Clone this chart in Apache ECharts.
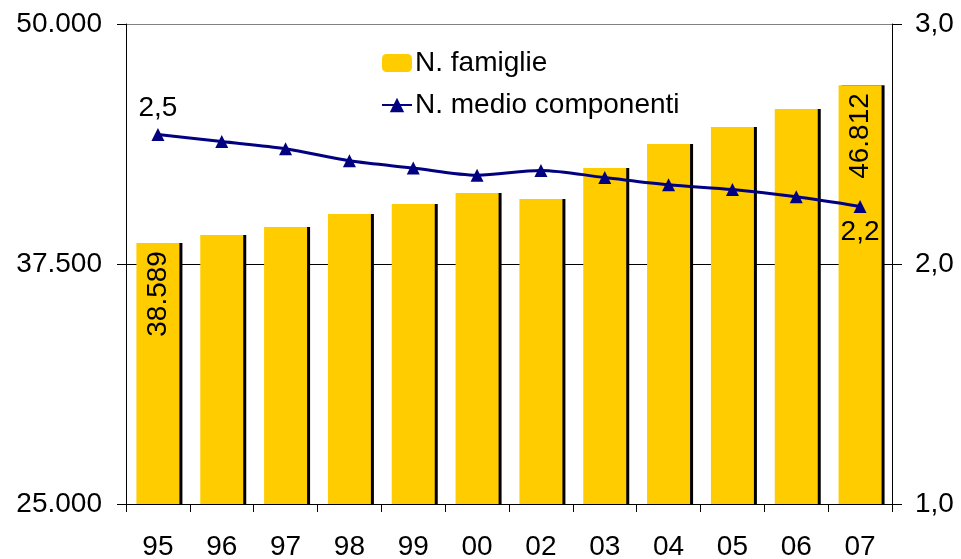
<!DOCTYPE html>
<html><head><meta charset="utf-8">
<script src="https://cdn.jsdelivr.net/npm/echarts@6/dist/echarts.min.js"></script>
<style>html,body{margin:0;padding:0;background:#fff}#c{width:961px;height:559px}</style>
</head><body><div id="c"></div>
<script>
var categories = ['95','96','97','98','99','00','02','03','04','05','06','07'];
var famiglie = [38589, 39010, 39427, 40104, 40625, 41198, 40885, 42500, 43750, 44635, 45573, 46812];
var componenti = [2.54, 2.51, 2.48, 2.43, 2.40, 2.37, 2.39, 2.36, 2.33, 2.31, 2.28, 2.24];
var leftTicks = [25000, 37500, 50000];
var rightTicks = [1, 2, 3];

var FONT = 'Liberation Sans, Arial, sans-serif';
var fmtThousands = function (v) { return String(Math.round(v)).replace(/\B(?=(\d{3})+(?!\d))/g, '.'); };
var fmtDec = function (v) { return v.toFixed(1).replace('.', ','); };

var barData = famiglie.map(function (v, i) {
  var item = { value: v };
  if (i === 0 || i === famiglie.length - 1) {
    item.label = { show: true };
  }
  return item;
});
var lineData = componenti.map(function (v, i) {
  var item = { value: v };
  if (i === 0) item.label = { show: true, position: 'top', distance: 6 };
  if (i === componenti.length - 1) item.label = { show: true, position: 'bottom', distance: 5 };
  return item;
});

var chart = echarts.init(document.getElementById('c'), null, { renderer: 'canvas' });
chart.setOption({
  animation: false,
  textStyle: { fontFamily: FONT },
  grid: { left: 126, right: 69, top: 24, bottom: 55, outerBoundsMode: 'none', containLabel: false },
  legend: {
    left: 376, top: 44, orient: 'vertical', itemGap: 14,
    itemWidth: 30, itemHeight: 18,
    textStyle: { fontSize: 28, color: '#000', fontFamily: FONT, padding: [0, 0, 0, -2] },
    data: ['N. famiglie', 'N. medio componenti']
  },
  xAxis: {
    type: 'category', data: categories, boundaryGap: true,
    axisLine: { lineStyle: { color: '#000', width: 1 } },
    axisTick: { show: true, length: 8, lineStyle: { color: '#000' } },
    axisLabel: { fontSize: 28, color: '#000', margin: 29, fontFamily: FONT }
  },
  yAxis: [{
    type: 'value', min: 25000, max: 50000, interval: 12500,
    axisLine: { show: true, lineStyle: { color: '#000' } },
    axisTick: { show: true, length: 9, lineStyle: { color: '#000' } },
    axisLabel: { fontSize: 28, color: '#000', margin: 24, fontFamily: FONT, formatter: fmtThousands },
    splitLine: { show: true, lineStyle: { color: ['#000', '#000', '#808080'], width: 1 } }
  }, {
    type: 'value', min: 1, max: 3, interval: 1, position: 'right',
    axisLine: { show: true, lineStyle: { color: '#000' } },
    axisTick: { show: true, length: 10, lineStyle: { color: '#000' } },
    axisLabel: { fontSize: 28, color: '#000', margin: 23, fontFamily: FONT, formatter: fmtDec },
    splitLine: { show: false }
  }],
  series: [{
    name: 'N. famiglie', type: 'bar', yAxisIndex: 0, data: barData,
    barWidth: 43,
    itemStyle: { color: '#FFCC00', shadowColor: '#000', shadowOffsetX: 3, shadowOffsetY: 0, shadowBlur: 0 },
    label: {
      show: false, position: 'insideTop', rotate: 90, align: 'right', verticalAlign: 'middle',
      distance: 8, fontSize: 28, color: '#000', fontFamily: FONT, formatter: function (p) { return fmtThousands(p.value); }
    },
    z: 1
  }, {
    name: 'N. medio componenti', type: 'line', yAxisIndex: 1, data: lineData,
    smooth: 0.3, symbol: 'triangle', symbolSize: 13,
    lineStyle: { color: '#000080', width: 3 },
    itemStyle: { color: '#000080' },
    label: { show: false, fontSize: 28, color: '#000', fontFamily: FONT, formatter: function (p) { return fmtDec(p.value); } },
    z: 3
  }]
});
</script>
</body></html>
